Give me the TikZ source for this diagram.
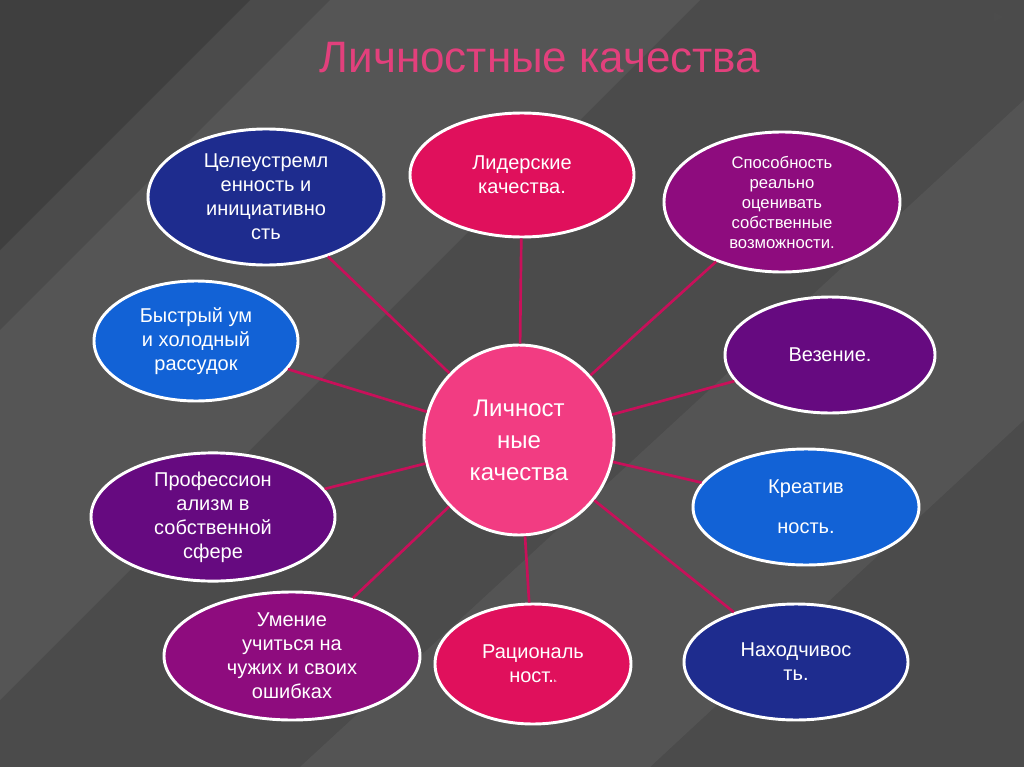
\documentclass[tikz,border=0pt]{standalone}
\usepackage{fontspec}
\setmainfont{Liberation Sans}
\usetikzlibrary{shapes.geometric}
\definecolor{bg}{HTML}{4B4B4B}
\definecolor{lnk}{HTML}{C8105A}
\definecolor{cDB}{HTML}{1E2C8E}
\definecolor{cCr}{HTML}{E0105C}
\definecolor{cPu}{HTML}{8E0C7E}
\definecolor{cVi}{HTML}{660A80}
\definecolor{cBl}{HTML}{1262D6}
\definecolor{cPk}{HTML}{F23C82}
\definecolor{ttl}{HTML}{E2407C}
\begin{document}
\begin{tikzpicture}[x=0.75pt,y=-0.75pt,
  bub/.style={ellipse,draw=white,line width=2.2pt,text=white,align=center,font=\fontsize{15}{18}\selectfont,inner sep=0pt},
  link/.style={draw=lnk,line width=2pt}]
\useasboundingbox (0,0) rectangle (1024,767);
\fill[bg] (0,0) rectangle (1024,767);
\fill[white,opacity=0.06] (0,330) -- (330,0) -- (700,0) -- (0,700) -- cycle;
\fill[white,opacity=0.05] (300,767) -- (1024,100) -- (1024,420) -- (650,767) -- cycle;
\fill[black,opacity=0.15] (0,0) -- (250,0) -- (0,250) -- cycle;
\fill[gray!60!black] (994,12) -- (1004,17) -- (994,22) -- cycle;
\node[text=ttl,font=\fontsize{33}{36}\selectfont] (title) at (540,58) {Личностные качества};
\node[bub,fill=cDB,minimum width=0.75*236pt,minimum height=0.75*136pt] (a) at (266,197) {Целеустремл\\енность и\\инициативно\\сть};
\node[bub,fill=cCr,minimum width=0.75*224pt,minimum height=0.75*124pt] (b) at (522,175) {Лидерские\\качества.};
\node[bub,fill=cPu,minimum width=0.75*236pt,minimum height=0.75*140pt,font=\fontsize{12.5}{15}\selectfont] (c) at (782,202) {Способность\\реально\\оценивать\\собственные\\возможности.};
\node[bub,fill=cVi,minimum width=0.75*210pt,minimum height=0.75*116pt] (d) at (830,355) {Везение.};
\node[bub,fill=cBl,minimum width=0.75*226pt,minimum height=0.75*116pt] (e) at (806,507) {Креатив\\[12pt]ность.};
\node[bub,fill=cDB,minimum width=0.75*224pt,minimum height=0.75*116pt] (f) at (796,662) {Находчивос\\ть.};
\node[bub,fill=cCr,minimum width=0.75*196pt,minimum height=0.75*120pt] (g) at (533,664) {Рациональ\\ност.{\fontsize{4}{4}\selectfont ь}};
\node[bub,fill=cPu,minimum width=0.75*256pt,minimum height=0.75*128pt] (h) at (292,656) {Умение\\учиться на\\чужих и своих\\ошибках};
\node[bub,fill=cVi,minimum width=0.75*244pt,minimum height=0.75*128pt] (i) at (213,517) {Профессион\\ализм в\\собственной\\сфере};
\node[bub,fill=cBl,minimum width=0.75*204pt,minimum height=0.75*120pt] (j) at (196,341) {Быстрый ум\\и холодный\\рассудок};
\node[circle,draw=white,line width=2.2pt,fill=cPk,minimum size=0.75*190pt,inner sep=0pt,text=white,align=center,font=\fontsize{18}{24}\selectfont] (m) at (519,440) {Личност\\ные\\качества};
\foreach \t in {a,b,c,d,e,f,g,h,i,j} \draw[link] (m) -- (\t);
\end{tikzpicture}
\end{document}
